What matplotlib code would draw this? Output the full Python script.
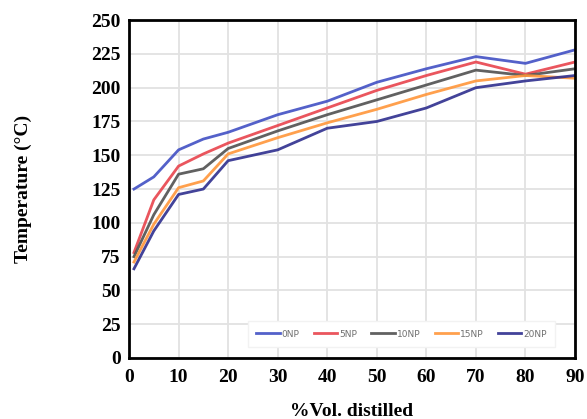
import matplotlib
matplotlib.use("Agg")
import matplotlib.pyplot as plt

# Distillation curves for blends with increasing nanoparticle content
vol_distilled = [1, 5, 10, 15, 20, 30, 40, 50, 60, 70, 80, 90]
np0 = [125, 134, 154, 162, 167, 180, 190, 204, 214, 223, 218, 228]
np5 = [78, 117, 142, 151, 159, 172, 185, 198, 209, 219, 210, 219]
np10 = [75, 106, 136, 140, 155, 168, 180, 191, 202, 213, 209, 214]
np15 = [71, 99, 126, 131, 151, 163, 174, 184, 195, 205, 209, 207]
np20 = [66, 94, 121, 125, 146, 154, 170, 175, 185, 200, 205, 209]

series_names = ["0NP", "5NP", "10NP", "15NP", "20NP"]
series_values = [np0, np5, np10, np15, np20]
series_colors = ["#4150c4", "#e8434c", "#505050", "#ff963a", "#2e2e8e"]

x_ticks = [0, 10, 20, 30, 40, 50, 60, 70, 80, 90]
y_ticks = [0, 25, 50, 75, 100, 125, 150, 175, 200, 225, 250]

fig = plt.figure(figsize=(5.87, 4.19), dpi=100)
ax = fig.add_axes([0.2198, 0.1456, 0.7598, 0.8064])

for name, vals, col in zip(series_names, series_values, series_colors):
    ax.plot(vol_distilled, vals, color=col, lw=2.0, label=name, alpha=0.9)

ax.set_xlim(0, 90)
ax.set_ylim(0, 250)
ax.set_xticks(x_ticks)
ax.set_yticks(y_ticks)
ax.grid(True, color="#e2e2e2", lw=1.3)
ax.set_axisbelow(True)

serif = "Liberation Serif"
for lab in ax.get_xticklabels() + ax.get_yticklabels():
    lab.set_fontfamily(serif)
    lab.set_fontweight("bold")
    lab.set_fontsize(14)
ax.tick_params(axis="y", length=0, pad=6)
ax.tick_params(axis="x", length=0, pad=8)

for sp in ax.spines.values():
    sp.set_linewidth(2.0)
    sp.set_color("black")

ax.set_xlabel("%Vol. distilled", fontfamily=serif, fontweight="bold",
              fontsize=14, labelpad=12)
fig.text(0.04, 0.55, "Temperature (°C)", rotation=90, ha="center",
         va="center", fontfamily=serif, fontweight="bold", fontsize=14)

leg = ax.legend(loc="lower right", ncol=5, fontsize=6.5, frameon=True,
                bbox_to_anchor=(0.965, 0.02), handlelength=2.6,
                handletextpad=0.2, columnspacing=1.6, borderpad=0.9,
                fancybox=False)
leg.get_frame().set_edgecolor("#f2f2f2")
leg.get_frame().set_facecolor("white")
leg.get_frame().set_alpha(1.0)
for t in leg.get_texts():
    t.set_color("#707070")

fig.savefig("out.png", dpi=100)
